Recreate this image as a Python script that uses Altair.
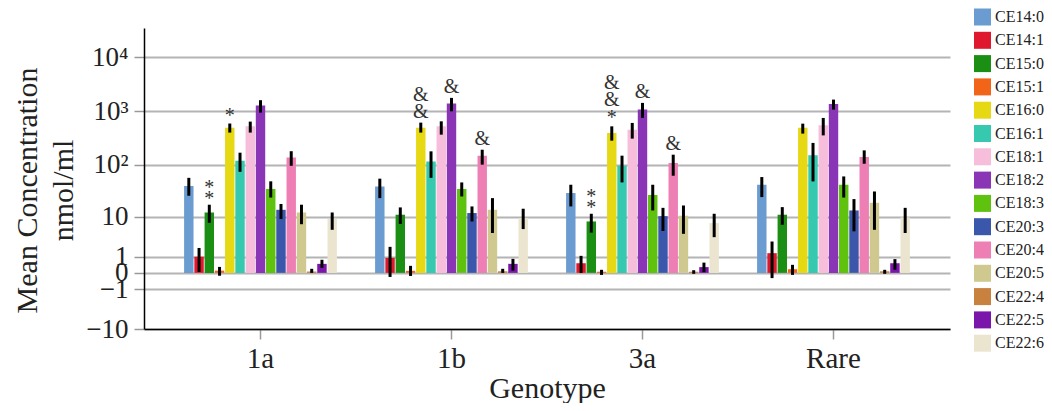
import altair as alt
import pandas as pd

genotypes = ["1a", "1b", "3a", "Rare"]
lipids = ["CE14:0", "CE14:1", "CE15:0", "CE15:1", "CE16:0", "CE16:1", "CE18:1", "CE18:2",
          "CE18:3", "CE20:3", "CE20:4", "CE20:5", "CE22:4", "CE22:5", "CE22:6"]
colors = ["#6a9bd1", "#e0182d", "#1a8f13", "#f26418", "#e6d813", "#36c9b0", "#f6bedb", "#8a35b6",
          "#5ec20e", "#3a57ab", "#ee7fb5", "#cfc98f", "#c8813e", "#7a16aa", "#ebe5d0"]

mean_1a = [40, 1.0, 12.2, 0.1, 490, 120, 524, 1270, 35, 13.8, 138, 12.2, 0.06, 0.47, 9.0]
lo_1a = [26, 0.04, 7.5, -0.13, 400, 74, 400, 940, 24, 9, 96, 7, 0.0, 0.24, 5.3]
hi_1a = [57, 1.9, 17.4, 0.29, 590, 169, 640, 1600, 49, 18, 180, 17.4, 0.19, 0.75, 12.2]

mean_1b = [39, 0.9, 11, 0.09, 490, 116, 524, 1383, 35, 11.9, 148, 13.8, 0.07, 0.47, 9.4]
lo_1b = [23.4, -0.19, 7.1, -0.14, 400, 57, 366, 995, 25.2, 8.0, 101, 4.5, 0.0, 0.1, 5.5]
hi_1b = [55, 2.04, 15.4, 0.35, 613, 179, 648, 1765, 46.7, 16.1, 192, 23.4, 0.19, 0.82, 14.5]

mean_3a = [29.3, 0.51, 8.0, 0.05, 394, 96.5, 454, 1070, 27, 10.3, 108, 10.5, 0.05, 0.28, 7.4]
lo_3a = [16.1, 0.0, 4.6, -0.09, 283, 46.7, 309, 750, 13.4, 5.0, 62.5, 4.3, -0.04, 0.03, 3.6]
hi_3a = [42.2, 1.07, 11.5, 0.14, 523, 148.6, 605, 1425, 42.2, 15.1, 155, 16.8, 0.12, 0.55, 11.5]

mean_rare = [42, 1.32, 11, 0.17, 490, 151, 546, 1364, 42, 13.4, 140, 19, 0.07, 0.51, 9.7]
lo_rare = [24.5, -0.25, 6.8, -0.09, 383, 48.8, 355, 1070, 24, 4.9, 105, 5.3, -0.04, 0.14, 4.5]
hi_rare = [59, 2.82, 15.6, 0.41, 587, 257, 749, 1642, 60.6, 22.4, 186.6, 31.4, 0.14, 0.8, 15.1]

# significance marks (genotype, lipid, symbols from bottom to top)
annotations = [
    ("1a", "CE15:0", "**"), ("1a", "CE16:0", "*"),
    ("1b", "CE16:0", "&&"), ("1b", "CE18:2", "&"), ("1b", "CE20:4", "&"),
    ("3a", "CE15:0", "**"), ("3a", "CE16:0", "*&&"), ("3a", "CE18:2", "&"), ("3a", "CE20:4", "&"),
]

y_ticks = [-10, -1, 0, 1, 10, 100, 1000, 10000]

series = {"1a": (mean_1a, lo_1a, hi_1a), "1b": (mean_1b, lo_1b, hi_1b),
          "3a": (mean_3a, lo_3a, hi_3a), "Rare": (mean_rare, lo_rare, hi_rare)}
rows = []
for g in genotypes:
    m, lo, hi = series[g]
    for i, lip in enumerate(lipids):
        rows.append({"genotype": g, "lipid": lip, "mean": m[i], "lo": lo[i], "hi": hi[i]})
df = pd.DataFrame(rows)

# expand annotations into one row per glyph with a pixel offset
ann_rows = []
for g, lip, syms in annotations:
    top = series[g][2][lipids.index(lip)]
    off = None
    prev = None
    for s in syms:
        if off is None:
            off = 0 if (s == "*" and len(syms) > 1 and syms[1] == "*") else (-2 if s == "*" else -5)
        else:
            off -= 11 if (prev == "*" and s == "*") else (18 if prev == "*" else 17)
        ann_rows.append({"genotype": g, "lipid": lip, "hi": top, "sym": s, "dy": off})
        prev = s
ann = pd.DataFrame(ann_rows)

FONT = "Liberation Serif"
TXT = "#222222"

yscale = alt.Scale(type="symlog", constant=1, domain=[-10, 35000], nice=False)
xscale = alt.Scale(domain=genotypes, paddingInner=0.2, paddingOuter=0.21)
oscale = alt.Scale(domain=lipids, paddingInner=0.08)

label_expr = ("datum.value == 10000 ? '10\u2074' : datum.value == 1000 ? '10\u00b3' : "
              "datum.value == 100 ? '10\u00b2' : datum.value < 0 ? '\u2212' + (-datum.value) : '' + datum.value")

yaxis = alt.Axis(values=y_ticks, labelExpr=label_expr, title=["Mean Concentration", "nmol/ml"],
                 titleFont=FONT, titleFontSize=30, titleFontWeight="normal", titleColor=TXT,
                 titleX=-117, titleY=162, titleAlign="center", titleBaseline="middle", titleAngle=270,
                 titleLineHeight=36,
                 labelFont=FONT, labelFontSize=27, labelColor=TXT, labelPadding=6, labelOverlap=False,
                 tickColor="#999999", tickSize=10, tickWidth=1.5,
                 domainColor="#000000", domainWidth=1.5,
                 grid=True, gridColor="#b4b4b4", gridWidth=2)
xaxis = alt.Axis(title="Genotype", titleFont=FONT, titleFontSize=30, titleFontWeight="normal",
                 titleColor=TXT, titleY=68, titleBaseline="alphabetic",
                 labelAngle=0, labelFont=FONT, labelFontSize=29, labelColor=TXT, labelPadding=5,
                 labelOverlap=False,
                 tickColor="#999999", tickSize=10, tickWidth=1.5,
                 domainColor="#000000", domainWidth=1.5, grid=False)

X = alt.X("genotype:N", scale=xscale, axis=xaxis)
XO = alt.XOffset("lipid:N", scale=oscale)

bars = alt.Chart(df).mark_bar().encode(
    x=X, xOffset=XO,
    y=alt.Y("mean:Q", scale=yscale, axis=yaxis),
    y2=alt.datum(0),
    color=alt.Color("lipid:N", scale=alt.Scale(domain=lipids, range=colors),
                    legend=alt.Legend(title=None, orient="none", legendX=830, legendY=-19.5,
                                      symbolType="square", symbolSize=289, symbolStrokeWidth=0,
                                      labelFont=FONT, labelFontSize=16, labelColor=TXT,
                                      labelOffset=4, rowPadding=6.3, padding=0,
                                      labelLimit=80)),
)

errs = alt.Chart(df).mark_rule(color="#000000", strokeWidth=3).encode(
    x=X, xOffset=XO,
    y=alt.Y("lo:Q", scale=yscale, axis=yaxis),
    y2="hi:Q",
)

layers = [bars, errs]
for d in sorted(ann["dy"].unique()):
    sub = ann[ann["dy"] == d]
    layers.append(
        alt.Chart(sub).mark_text(dy=float(d), baseline="alphabetic", font=FONT, fontSize=20,
                                 color="#333333").encode(
            x=X, xOffset=XO,
            y=alt.Y("hi:Q", scale=yscale, axis=yaxis),
            text="sym:N",
        )
    )

chart = alt.layer(*layers).properties(
    width=806, height=301,
    autosize=alt.AutoSizeParams(type="none"),
    padding={"left": 136, "top": 20, "right": 94, "bottom": 74},
).configure_view(strokeWidth=0)

chart.save("out.html", embed_options={"renderer": "svg", "actions": False})
